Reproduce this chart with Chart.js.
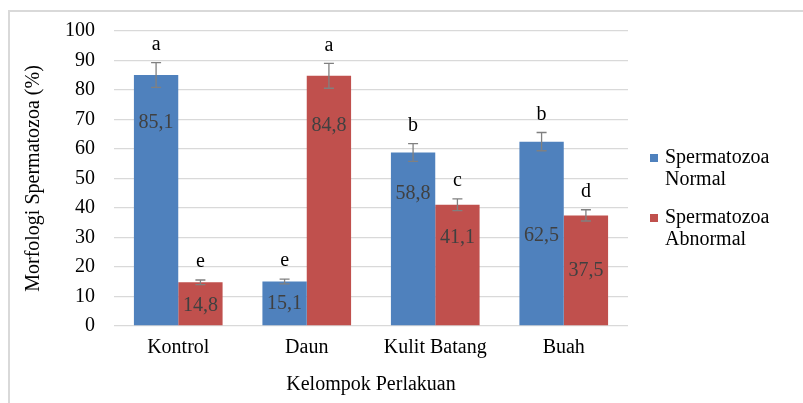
<!DOCTYPE html>
<html>
<head>
<meta charset="utf-8">
<script src="https://cdn.jsdelivr.net/npm/chart.js@4"></script>
<style>
  html, body { margin: 0; padding: 0; background: #fff; }
  #wrap { width: 803px; height: 403px; }
</style>
</head>
<body>
<div id="wrap"><canvas id="morfologiChart" width="803" height="403"></canvas></div>
<script>
const categories = ['Kontrol', 'Daun', 'Kulit Batang', 'Buah'];
const normalValues = [85.1, 15.1, 58.8, 62.5];
const abnormalValues = [14.8, 84.8, 41.1, 37.5];
const normalErrors = [4.2, 0.8, 3.0, 3.1];
const abnormalErrors = [0.8, 4.2, 2.0, 1.9];
const normalLetters = ['a', 'e', 'b', 'b'];
const abnormalLetters = ['e', 'a', 'c', 'd'];
const seriesNames = [['Spermatozoa', 'Normal'], ['Spermatozoa', 'Abnormal']];

const FONT = '"Liberation Serif", "Times New Roman", serif';
const blue = '#4f81bd';
const red = '#c0504d';

// label position inside each bar, as share of the bar height
const labelShare = [[0.81, 0.49, 0.76, 0.49], [0.47, 0.80, 0.73, 0.50]];

const annotatePlugin = {
  id: 'annotate',
  beforeDraw(chart) {
    const ctx = chart.ctx;
    ctx.save();
    ctx.strokeStyle = '#d9d9d9';
    ctx.lineWidth = 2;
    ctx.strokeRect(9, 11, chart.width + 10, chart.height + 10);
    ctx.restore();
  },
  afterDatasetsDraw(chart) {
    const ctx = chart.ctx;
    const y = chart.scales.y;
    const errs = [normalErrors, abnormalErrors];
    const letters = [normalLetters, abnormalLetters];
    ctx.save();
    chart.data.datasets.forEach((ds, d) => {
      const meta = chart.getDatasetMeta(d);
      meta.data.forEach((bar, i) => {
        const v = ds.data[i];
        const top = y.getPixelForValue(v + errs[d][i]);
        const bot = y.getPixelForValue(v - errs[d][i]);
        ctx.strokeStyle = '#808080';
        ctx.lineWidth = 1.3;
        ctx.beginPath();
        ctx.moveTo(bar.x, top); ctx.lineTo(bar.x, bot);
        ctx.moveTo(bar.x - 5, top); ctx.lineTo(bar.x + 5, top);
        ctx.moveTo(bar.x - 5, bot); ctx.lineTo(bar.x + 5, bot);
        ctx.stroke();

        ctx.textAlign = 'center';
        ctx.textBaseline = 'middle';
        ctx.font = '20px ' + FONT;
        ctx.fillStyle = '#000';
        ctx.fillText(letters[d][i], bar.x, top - 18);

        ctx.fillStyle = '#404040';
        const ly = y.getPixelForValue(v * labelShare[d][i]);
        ctx.fillText(v.toFixed(1).replace('.', ','), bar.x, ly);
      });
    });

    // legend on the right
    const colors = [blue, red];
    const startY = [158, 218];
    ctx.textAlign = 'left';
    ctx.font = '20px ' + FONT;
    seriesNames.forEach((lines, k) => {
      ctx.fillStyle = colors[k];
      ctx.fillRect(650, startY[k] - 4, 8, 8);
      ctx.fillStyle = '#000';
      lines.forEach((t, j) => ctx.fillText(t, 665, startY[k] + j * 22));
    });
    ctx.restore();
  }
};

const ctx = document.getElementById('morfologiChart').getContext('2d');
const morfologiChart = new Chart(ctx, {
  type: 'bar',
  data: {
    labels: categories,
    datasets: [{
      label: 'Spermatozoa Normal',
      data: normalValues,
      backgroundColor: blue
    }, {
      label: 'Spermatozoa Abnormal',
      data: abnormalValues,
      backgroundColor: red
    }]
  },
  options: {
    responsive: false,
    animation: false,
    layout: { padding: { top: 30, right: 175, left: 0, bottom: 0 } },
    datasets: {
      bar: { categoryPercentage: 0.69, barPercentage: 1.0 }
    },
    scales: {
      x: {
        grid: { display: false },
        border: { display: false },
        ticks: { color: '#000', font: { family: FONT, size: 20 }, padding: 2 },
        title: {
          display: true,
          text: 'Kelompok Perlakuan',
          color: '#000',
          font: { family: FONT, size: 20 },
          padding: { top: 6, bottom: 6 }
        },
        afterFit(scale) { scale.height = 77; }
      },
      y: {
        min: 0,
        max: 100,
        ticks: { stepSize: 10, color: '#000', font: { family: FONT, size: 20 }, padding: 19 },
        grid: { color: '#d9d9d9', lineWidth: 1.3, drawTicks: false },
        border: { display: false },
        title: {
          display: true,
          text: 'Morfologi Spermatozoa (%)',
          color: '#000',
          font: { family: FONT, size: 20 },
          padding: { top: 22, bottom: 22 }
        },
        afterFit(scale) { scale.width = 114; }
      }
    },
    plugins: {
      legend: { display: false },
      tooltip: { enabled: false }
    }
  },
  plugins: [annotatePlugin]
});
</script>
</body>
</html>
